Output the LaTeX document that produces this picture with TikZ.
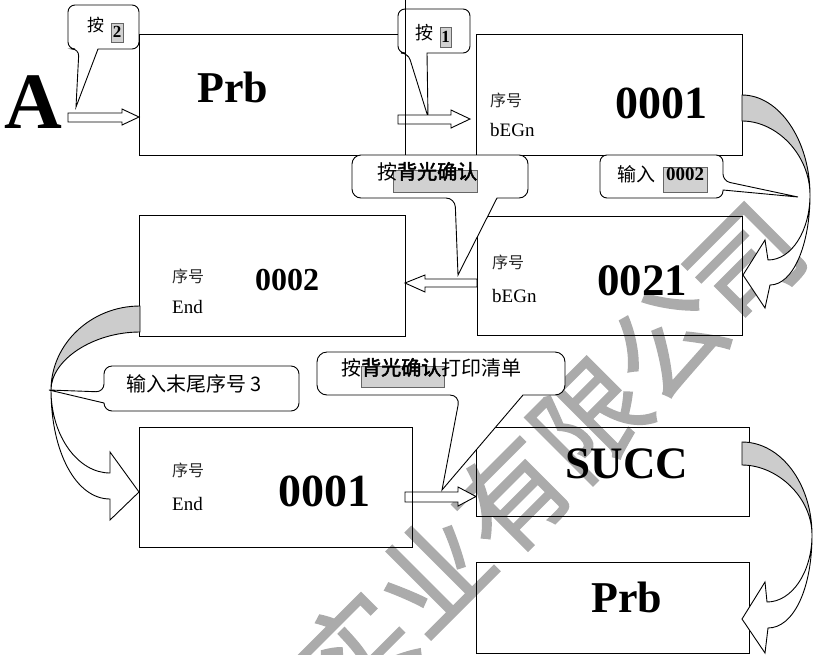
\documentclass[tikz,border=0pt]{standalone}
\usepackage{fontspec}
\setmainfont{Liberation Serif}
\newfontfamily\cjk{Noto Sans CJK SC}
\newfontfamily\cjkbold{Noto Sans CJK SC}[FakeBold=2.5]
\newfontfamily\wmfont{Noto Sans CJK SC}[FakeBold=1.5]
\newcommand\myfs[1]{\fontsize{#1}{#1}\selectfont}
\tikzset{
  boxline/.style={line width=1pt, line join=miter},
  blockarrow/.style={draw, fill=white, line width=0.9pt, line join=miter},
  ribgray/.style={draw, fill=black!20, line width=0.9pt},
  ribwhite/.style={draw, fill=white, line width=0.9pt, line join=miter},
  callout/.style={draw, fill=white, line width=0.9pt},
  hilite/.style={draw=black!60, fill=black!18, line width=0.5pt},
  lbl/.style={inner sep=0pt, anchor=base west},
  cjklbl/.style={inner sep=0pt, anchor=base west, text=black!85, font=\cjk\myfs{16}},
  serlbl/.style={inner sep=0pt, anchor=base west, font=\myfs{19}},
  bigtxt/.style={inner sep=0pt, anchor=base, font=\bfseries\myfs{#1}},
}
\begin{document}
\begin{tikzpicture}[x=1pt,y=-1pt]
\useasboundingbox (0,0) rectangle (814,654);
% watermark
\node[rotate=45, inner sep=0, text=black!33, font=\wmfont\myfs{110}] (wm) at (550,457) {实业有限公司};

% callouts drawn under boxes
\filldraw[callout] (98,49) [rounded corners=7] -- (139,49) -- (139,5) -- (68,5) -- (68,49) -- (79,49) [sharp corners] -- (76,107) -- cycle;
\filldraw[callout] (427,53) [rounded corners=7] -- (470,53) -- (470,9) -- (398,9) -- (398,53) -- (408,53) [sharp corners] -- (428,117) -- cycle;

% straight block arrows
\filldraw[blockarrow] (68,113) -- (122,113) -- (122,109) -- (139,117) -- (122,125) -- (122,122) -- (68,122) -- cycle;
\filldraw[blockarrow] (398,115) -- (451,115) -- (451,110) -- (470,119) -- (451,128) -- (451,124) -- (398,124) -- cycle;
\filldraw[blockarrow] (477,279) -- (425,279) -- (425,275) -- (405,283) -- (425,292) -- (425,287) -- (477,287) -- cycle;
\filldraw[blockarrow] (405,492) -- (458,492) -- (458,487) -- (476,496.5) -- (458,506) -- (458,502) -- (405,502) -- cycle;

% boxes
\draw[boxline] (398,34) -- (139,34) -- (139,155) -- (405,155) -- (405,0);
\draw[boxline] (476,34) rectangle (742,155);
\draw[boxline] (477,216) rectangle (742,335);
\draw[boxline] (139,215) rectangle (405,336);
\draw[boxline] (139,427) rectangle (412,547);
\draw[boxline] (476,427) rectangle (749,516);
\draw[boxline] (476,562) rectangle (749,653);

% curved ribbon arrows
\filldraw[ribgray] (742,95) .. controls (779,95) and (810,140) .. (810,195) .. controls (810,155) and (777,121) .. (742,121) -- cycle;
\filldraw[ribwhite] (810,195) .. controls (810,230) and (792,260) .. (768,260) -- (765,240) -- (743,275) -- (765,308) -- (770,285) .. controls (793,285) and (810,245) .. (810,195) -- cycle;

\filldraw[ribgray] (140,306) .. controls (91,306) and (51,344) .. (51,390) .. controls (51,360) and (93,332) .. (140,332) -- cycle;
\filldraw[ribwhite] (51,390) .. controls (51,436) and (78,473) .. (110,473) -- (110,452) -- (139,492) -- (110,520) -- (110,499) .. controls (76,499) and (51,452) .. (51,390) -- cycle;

\filldraw[ribgray] (742,442) .. controls (781,442) and (812,484) .. (812,535) .. controls (812,497) and (777,465) .. (742,465) -- cycle;
\filldraw[ribwhite] (812,535) .. controls (812,572) and (792,602) .. (767,602) -- (765,582) -- (742,619) -- (765,653) -- (768,628) .. controls (793,628) and (812,590) .. (812,535) -- cycle;

% other callouts
\filldraw[callout] (497,198) [rounded corners=9] -- (528,198) -- (528,155) -- (352,155) -- (352,198) -- (455,198) [sharp corners] -- (458,275) -- cycle;
\filldraw[callout] (723,190) [rounded corners=7] -- (723,198) -- (600,198) -- (600,155) -- (723,155) -- (723,181) [sharp corners] -- (798,197) -- cycle;
\filldraw[callout] (104,403) [rounded corners=8] -- (104,411) -- (299,411) -- (299,366) -- (104,366) -- (104,392) [sharp corners] -- (49,390) -- cycle;
\filldraw[callout] (523,395) [rounded corners=10] -- (565,395) -- (565,352) -- (317,352) -- (317,395) -- (460,395) [sharp corners] -- (442,490) -- cycle;

% highlights
\draw[hilite] (111,23) rectangle (123,42);
\draw[hilite] (440,27) rectangle (451,47);
\draw[hilite] (393,170) rectangle (477,192);
\draw[hilite] (663,167) rectangle (707,192);
\draw[hilite] (361,366) rectangle (444,387);

% texts
\node[bigtxt=80] (tA) at (33,128) {A};
\node[bigtxt=44] (tPrb1) at (233,102) {Prb};
\node[bigtxt=46] (t0001a) at (661,118) {0001};
\node[bigtxt=45] (t0021) at (642,295) {0021};
\node[bigtxt=32] (t0002) at (287,290) {0002};
\node[bigtxt=46] (t0001b) at (324,506) {0001};
\node[bigtxt=45] (tSUCC) at (627,478) {SUCC};
\node[bigtxt=44] (tPrb2) at (627,612) {Prb};

\node[cjklbl] (s2) at (490,106) {序号};
\node[serlbl] (g2) at (490,136) {bEGn};
\node[cjklbl] (s3) at (492,268) {序号};
\node[serlbl] (g3) at (492,302) {bEGn};
\node[cjklbl] (s4) at (172,282) {序号};
\node[serlbl] (e4) at (172,313) {End};
\node[cjklbl] (s5) at (172,476) {序号};
\node[serlbl] (e5) at (172,510) {End};

\node[lbl, font=\cjk\myfs{17}] (k1) at (87,31) {按};
\node[inner sep=0, anchor=base, font=\bfseries\myfs{17}] (n2) at (117,37) {2};
\node[lbl, font=\cjk\myfs{18}] (k2) at (415,39) {按};
\node[inner sep=0, anchor=base, font=\bfseries\myfs{17}] (n1) at (445.5,42) {1};
\node[lbl, font=\cjk\myfs{20}] (k3) at (377,179) {按{\cjkbold 背光确认}};
\node[lbl, font=\cjk\myfs{19}] (k4) at (617,181) {输入};
\node[inner sep=0, anchor=base, font=\bfseries\myfs{19}] (n0002) at (685,180) {0002};
\node[lbl, font=\cjk\myfs{20}] (k5) at (126,391) {输入末尾序号 3};
\node[lbl, font=\cjk\myfs{20}] (k6) at (341,375) {按{\cjkbold 背光确认}打印清单};
\end{tikzpicture}
\end{document}
